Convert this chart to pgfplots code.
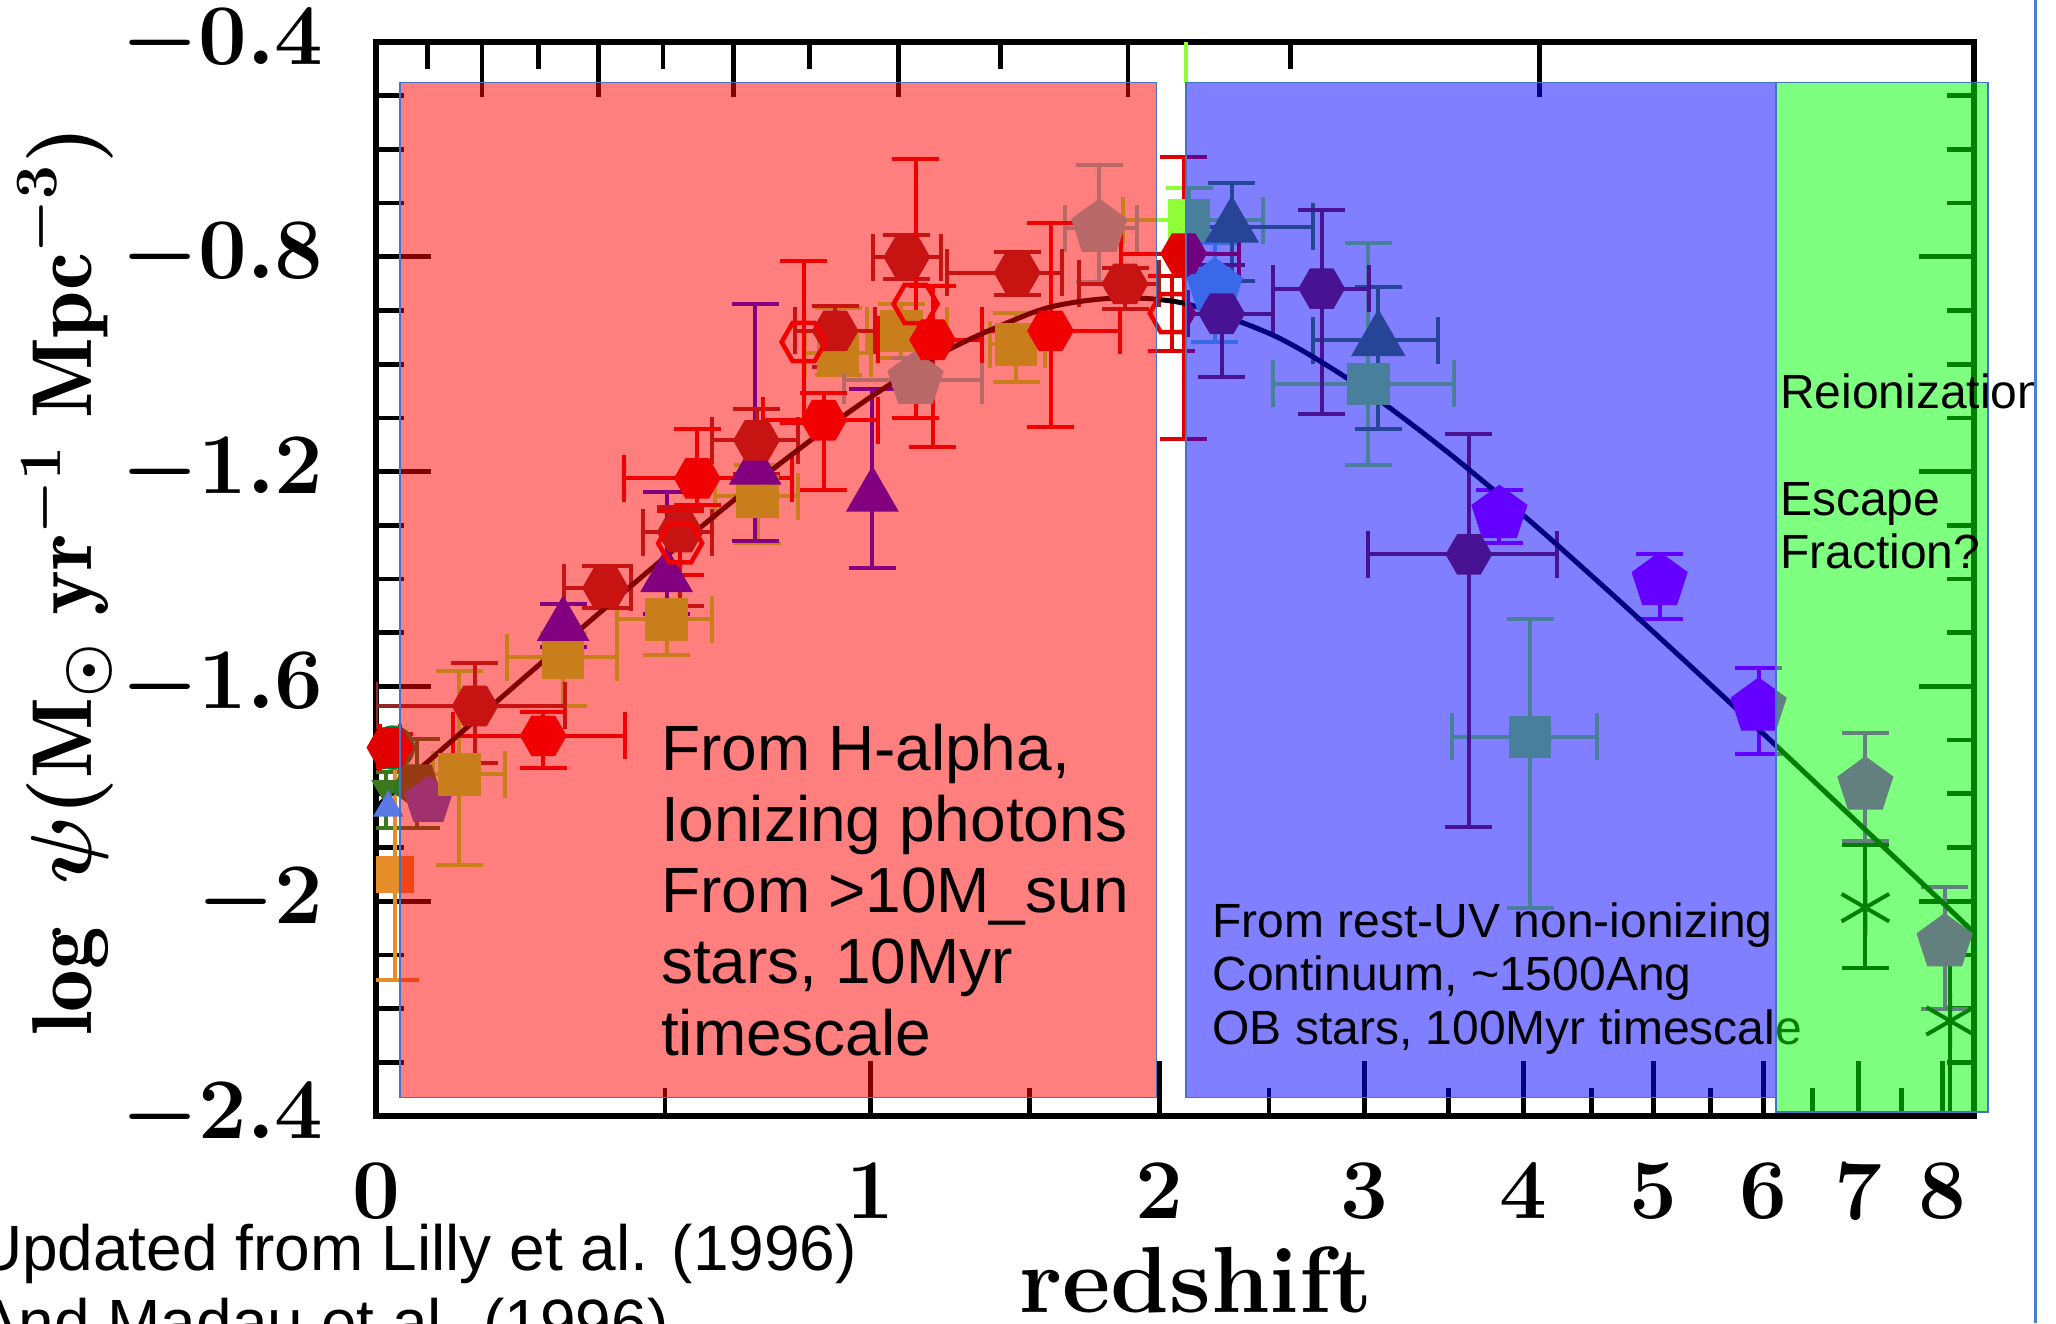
\documentclass[border=0pt]{standalone}
\usepackage{fontspec}
\usepackage{pgfplots}
\pgfplotsset{compat=1.18}
\usetikzlibrary{plotmarks}
\newfontfamily\arialfont{Liberation Sans}

\definecolor{cDR}{RGB}{145,40,40}
\definecolor{cR}{RGB}{225,0,0}
\definecolor{cLime}{RGB}{145,255,55}
\definecolor{cBl}{RGB}{5,0,255}
\definecolor{cRosy}{RGB}{115,210,210}
\definecolor{cOlive}{RGB}{80,140,45}
\definecolor{cViolet}{RGB}{200,0,255}
\definecolor{cGrC}{RGB}{5,140,60}
\definecolor{cSienna}{RGB}{45,120,40}
\definecolor{cMag}{RGB}{65,100,220}
\definecolor{cLB}{RGB}{90,120,230}
\definecolor{cOr}{RGB}{230,140,40}
\definecolor{cGrT}{RGB}{60,120,30}
\definecolor{edgeblue}{RGB}{68,114,196}
\definecolor{slideblue}{RGB}{70,130,210}

\pgfdeclareplotmark{hex*}{%
  \pgfpathmoveto{\pgfqpoint{\pgfplotmarksize}{0pt}}%
  \pgfpathlineto{\pgfqpoint{0.5\pgfplotmarksize}{0.866\pgfplotmarksize}}%
  \pgfpathlineto{\pgfqpoint{-0.5\pgfplotmarksize}{0.866\pgfplotmarksize}}%
  \pgfpathlineto{\pgfqpoint{-\pgfplotmarksize}{0pt}}%
  \pgfpathlineto{\pgfqpoint{-0.5\pgfplotmarksize}{-0.866\pgfplotmarksize}}%
  \pgfpathlineto{\pgfqpoint{0.5\pgfplotmarksize}{-0.866\pgfplotmarksize}}%
  \pgfpathclose\pgfusepathqfillstroke}
\pgfdeclareplotmark{hex}{%
  \pgfpathmoveto{\pgfqpoint{\pgfplotmarksize}{0pt}}%
  \pgfpathlineto{\pgfqpoint{0.5\pgfplotmarksize}{0.866\pgfplotmarksize}}%
  \pgfpathlineto{\pgfqpoint{-0.5\pgfplotmarksize}{0.866\pgfplotmarksize}}%
  \pgfpathlineto{\pgfqpoint{-\pgfplotmarksize}{0pt}}%
  \pgfpathlineto{\pgfqpoint{-0.5\pgfplotmarksize}{-0.866\pgfplotmarksize}}%
  \pgfpathlineto{\pgfqpoint{0.5\pgfplotmarksize}{-0.866\pgfplotmarksize}}%
  \pgfpathclose\pgfusepathqstroke}

\pgfplotsset{
  ebxy/.style={error bars/.cd, x dir=both, x explicit, y dir=both, y explicit,
     error mark=-,
     error bar style={line width=0.8pt},
     error mark options={rotate=90, solid, line width=0.8pt, mark size=4.7pt}},
  eby/.style={error bars/.cd, y dir=both, y explicit,
     error mark=-,
     error bar style={line width=0.8pt},
     error mark options={rotate=90, solid, line width=0.8pt, mark size=4.7pt}},
  pts/.style={only marks, color=#1, mark options={solid, fill=#1, draw=#1, line width=0.5pt}},
}

\begin{document}
\begin{tikzpicture}
\useasboundingbox (0,0) rectangle (411.2pt,264.6pt);
\clip (0,0) rectangle (411.2pt,264.6pt);

\begin{axis}[
  at={(75.2pt,41.4pt)}, anchor=south west,
  width=319.6pt, height=214.8pt, scale only axis,
  xmin=0, xmax=0.9735, ymin=-2.4, ymax=-0.4,
  xtick={0,0.30103,0.47712,0.60206,0.69897,0.77815,0.84510,0.90309,0.95424},
  xticklabels={0,1,2,3,4,5,6,7,8},
  minor xtick={0.17609,0.39794,0.54407,0.65321,0.74036,0.81291,0.87506,0.92942},
  ytick={-2.4,-2,-1.6,-1.2,-0.8,-0.4},
  minor ytick={-2.3,-2.2,-2.1,-1.9,-1.8,-1.7,-1.5,-1.4,-1.3,-1.1,-1,-0.9,-0.7,-0.6,-0.5},
  xtick pos=left, ytick pos=both,
  tick align=inside,
  major tick length=11pt, minor tick length=5.5pt,
  tick style={black, line width=0.95pt},
  axis line style={line width=1.1pt},
  tick label style={font=\fontsize{17}{17}\selectfont\boldmath\bfseries},
  xticklabel style={inner sep=0pt, yshift=-9.1pt},
  yticklabel style={inner sep=0pt, xshift=-10.3pt},
  clip=true,
]

% left cluster (z ~ 0)
\addplot[pts=cGrT, mark=triangle*, mark size=3pt, mark options={rotate=180}, eby]
  table[x=x,y=y,y error minus=ym,y error plus=yp]{
x y ym yp
0.006 -1.79 0.073 0.03
};
\addplot[pts=cGrC, mark=*, mark size=4.2pt] table[x=x,y=y]{
x y
0.0102 -1.714
};
\addplot[pts=cSienna, mark=pentagon*, mark size=4.8pt, mark options={rotate=180}, eby]
  table[x=x,y=y,y error minus=ym,y error plus=yp]{
x y ym yp
0.0248 -1.783 0.080 0.085
};
\addplot[pts=cMag, mark=pentagon*, mark size=4.8pt] table[x=x,y=y]{
x y
0.0319 -1.8136
};
\addplot[pts=cLB, mark=triangle*, mark size=3pt] table[x=x,y=y]{
x y
0.0075 -1.826
};
\addplot[pts=cOr, mark=square*, mark size=3.5pt, eby]
  table[x=x,y=y,y error minus=ym,y error plus=yp]{
x y ym yp
0.0116 -1.950 0.197 0.199
};

% lime squares
\addplot[pts=cLime, mark=square*, mark size=4pt, ebxy]
  table[x=x,y=y,x error minus=xm,x error plus=xp,y error minus=ym,y error plus=yp]{
x y xm xp ym yp
0.0508 -1.764 0.0158 0.0278 0.168 0.193
0.114 -1.546 0.0344 0.0326 0.09 0.046
0.177 -1.475 0.0303 0.0275 0.0666 0.0583
0.2325 -1.246 0.0262 0.0245 0.087 0.058
0.2815 -0.9795 0.02 0.02 0.0415 0.0835
0.32 -0.938 0.021 0.028 0.05 0.05
0.3899 -0.9629 0.0159 0.0174 0.0708 0.0583
0.4953 -0.732 0.04 0.045 0.06 0.06
0.6045 -1.0366 0.0578 0.052 0.151 0.2616
0.7031 -1.694 0.0473 0.0407 0.318 0.219
};

% blue triangles
\addplot[pts=cBl, mark=triangle*, mark size=5.6pt, eby]
  table[x=x,y=y,y error minus=ym,y error plus=yp]{
x y ym yp
0.114 -1.487 0.04 0.041
0.177 -1.396 0.07 0.158
0.231 -1.196 0.134 0.308
0.3024 -1.246 0.133 0.2
};

% light cyan pentagons
\addplot[pts=cRosy, mark=pentagon*, mark size=5.6pt, ebxy]
  table[x=x,y=y,x error minus=xm,x error plus=xp,y error minus=ym,y error plus=yp]{
x y xm xp ym yp
0.3287 -1.0295 0.0437 0.0403 0.07 0.0415
0.4406 -0.7464 0.021 0.0227 0.10 0.1164
0.511 -0.856 0 0 0.103 0.081
};

% olive triangles
\addplot[pts=cOlive, mark=triangle*, mark size=5.8pt, ebxy]
  table[x=x,y=y,x error minus=xm,x error plus=xp,y error minus=ym,y error plus=yp]{
x y xm xp ym yp
0.5213 -0.7444 0.028 0.0497 0.10 0.0809
0.6106 -0.9557 0.0396 0.0364 0.1648 0.0997
};

% violet pentagons
\addplot[pts=cViolet, mark=pentagon*, mark size=5.6pt, eby]
  table[x=x,y=y,y error minus=ym,y error plus=yp]{
x y ym yp
0.6844 -1.2793 0.0541 0.0458
0.782 -1.4042 0.0708 0.05
0.8423 -1.638 0.087 0.073
0.9073 -1.785 0.103 0.099
0.9556 -2.077 0.123 0.103
};

% black stars
\addplot[pts=black, mark=asterisk, mark size=5.5pt, mark options={line width=0.8pt}, eby]
  table[x=x,y=y,y error minus=ym,y error plus=yp]{
x y ym yp
0.9073 -2.012 0.112 0.116
0.959 -2.223 0.3 0.155
};

% dark red hexagons
\addplot[pts=cDR, mark=hex*, mark size=4.4pt, ebxy]
  table[x=x,y=y,x error minus=xm,x error plus=xp,y error minus=ym,y error plus=yp]{
x y xm xp ym yp
0.0603 -1.6365 0.0603 0.0547 0.1055 0.0808
0.1398 -1.4167 0.0255 0.0157 0.0373 0.0417
0.1853 -1.3126 0.0228 0.0192 0.1374 0.0458
0.2318 -1.1419 0.0273 0.0252 0.0624 0.0583
0.2797 -0.9379 0.0247 0.0243 0.0666 0.0459
0.3234 -0.8005 0.0209 0.0210 0.0416 0.0416
0.3906 -0.8296 0.0426 0.0274 0.0414 0.0376
0.4563 -0.8505 0.0279 0.0210 0.0458 0.0292
0.5152 -0.906 0.0203 0.0315 0.118 0.09
0.5761 -0.8594 0.0294 0.0291 0.2331 0.1474
0.6658 -1.3542 0.0613 0.0539 0.5078 0.2248
};

% red hexagons
\addplot[pts=cR, mark=hex*, mark size=4.4pt, ebxy]
  table[x=x,y=y,x error minus=xm,x error plus=xp,y error minus=ym,y error plus=yp]{
x y xm xp ym yp
0.0085 -1.714 0.006 0.006 0.037 0.025
0.1019 -1.692 0.0548 0.0498 0.060 0.044
0.1957 -1.2127 0.0444 0.0578 0.050 0.0917
0.2727 -1.1044 0.0367 0.0333 0.129 0.050
0.3391 -0.9545 0.0331 0.0299 0.200 0.100
0.4109 -0.9379 0.0419 0.0421 0.179 0.200
0.492 -0.794 0.038 0.034 0.345 0.18
};

% open red hexagons
\addplot[only marks, color=cR, mark=hex, mark size=4.4pt, mark options={solid, fill=none, draw=cR, line width=0.9pt}, eby]
  table[x=x,y=y,y error minus=ym,y error plus=yp]{
x y ym yp
0.1853 -1.3334 0.06 0.06
0.2605 -0.9587 0.15 0.15
0.3287 -0.8879 0.2124 0.2706
0.4848 -0.905 0.07 0.07
};

% fitted curve
\addplot[black, line width=1pt, smooth, mark=none] coordinates {
(0,-1.825) (0.05,-1.691) (0.1,-1.558) (0.15,-1.427) (0.2,-1.298)
(0.25,-1.176) (0.3,-1.064) (0.35,-0.971) (0.4,-0.904) (0.425,-0.885)
(0.45,-0.877) (0.475,-0.879) (0.5,-0.893) (0.55,-0.951) (0.6,-1.043)
(0.65,-1.157) (0.7,-1.284) (0.75,-1.420) (0.8,-1.560) (0.85,-1.702)
(0.9,-1.846) (0.95,-1.990) (0.975,-2.063)
};

\draw[cLime, line width=0.7pt] (axis cs:0.4935,-0.4) -- (axis cs:0.4935,-0.4758);

\coordinate (RA) at (axis cs:0.0146,-2.366);
\coordinate (RB) at (axis cs:0.4756,-0.4758);
\coordinate (BA) at (axis cs:0.4935,-2.366);
\coordinate (BB) at (axis cs:0.853,-0.4758);
\coordinate (GA) at (axis cs:0.853,-2.393);
\coordinate (GB) at (axis cs:0.982,-0.4758);
\end{axis}

% top axis: lookback-time ticks
\begin{axis}[
  at={(75.2pt,41.4pt)}, anchor=south west,
  width=319.6pt, height=214.8pt, scale only axis,
  xmin=0, xmax=0.9735, ymin=-2.4, ymax=-0.4,
  axis line style={draw=none},
  xtick pos=right, ytick=\empty,
  xtick={0.0646,0.1356,0.2178,0.3182,0.4581,0.709},
  minor xtick={0.0314,0.0988,0.1748,0.2640,0.3804,0.557},
  xticklabels={},
  tick align=inside,
  major tick length=11pt, minor tick length=5.5pt,
  tick style={black, line width=0.95pt},
]
\addplot[draw=none] coordinates {(0,-1)};
\end{axis}

% overlays
\fill[red, fill opacity=0.5] (RA) rectangle (RB);
\draw[edgeblue, line width=0.3pt] (RA) rectangle (RB);
\fill[blue, fill opacity=0.5] (BA) rectangle (BB);
\draw[edgeblue, line width=0.3pt] (BA) rectangle (BB);

\begin{scope}[every node/.style={anchor=base west, inner sep=0pt, font=\arialfont\fontsize{12.8}{14.2}\selectfont}]
\node at (132.0pt,110.4pt) {From H-alpha,};
\node at (132.0pt,96.2pt) {Ionizing photons};
\node at (132.0pt,82.0pt) {From >10M\_sun};
\node at (132.0pt,67.8pt) {stars, 10Myr};
\node at (132.0pt,53.6pt) {timescale};
\end{scope}

\begin{scope}[every node/.style={anchor=base west, inner sep=0pt, font=\arialfont\fontsize{9.6}{10.9}\selectfont}]
\node at (242.3pt,77.1pt) {From rest-UV non-ionizing};
\node at (242.3pt,66.4pt) {Continuum, \textasciitilde1500Ang};
\node at (242.3pt,55.7pt) {OB stars, 100Myr timescale};
\end{scope}

\fill[green, fill opacity=0.5] (GA) rectangle (GB);
\draw[edgeblue, line width=0.3pt] (GA) rectangle (GB);

\begin{scope}
\clip (0,0) rectangle (406.6pt,264.6pt);
\begin{scope}[every node/.style={anchor=base west, inner sep=0pt, font=\arialfont\fontsize{9.6}{10.7}\selectfont}]
\node at (355.8pt,182.9pt) {Reionization};
\node at (355.8pt,161.5pt) {Escape};
\node at (355.8pt,150.8pt) {Fraction?};
\end{scope}
\end{scope}
\draw[slideblue, line width=0.6pt] (407.1pt,0) -- (407.1pt,264.6pt);

% axis titles
\node[rotate=90, anchor=base, inner sep=0pt, font=\fontsize{17}{17}\selectfont\boldmath]
  at (18.3pt,148.5pt) {$\log\ \psi(\mathrm{M}_{\odot}\ \mathrm{yr}^{-1}\ \mathrm{Mpc}^{-3})$};
\node[anchor=base, inner sep=0pt, font=\fontsize{18.8}{18.8}\selectfont\bfseries]
  at (239.2pt,2.2pt) {redshift};

\begin{scope}[every node/.style={anchor=base west, inner sep=0pt, font=\arialfont\fontsize{12.8}{14.7}\selectfont}]
\node at (-5pt,10.5pt) {Updated from Lilly et al. (1996)};
\node at (-5pt,-4.2pt) {And Madau et al. (1996)};
\end{scope}
\end{tikzpicture}
\end{document}
